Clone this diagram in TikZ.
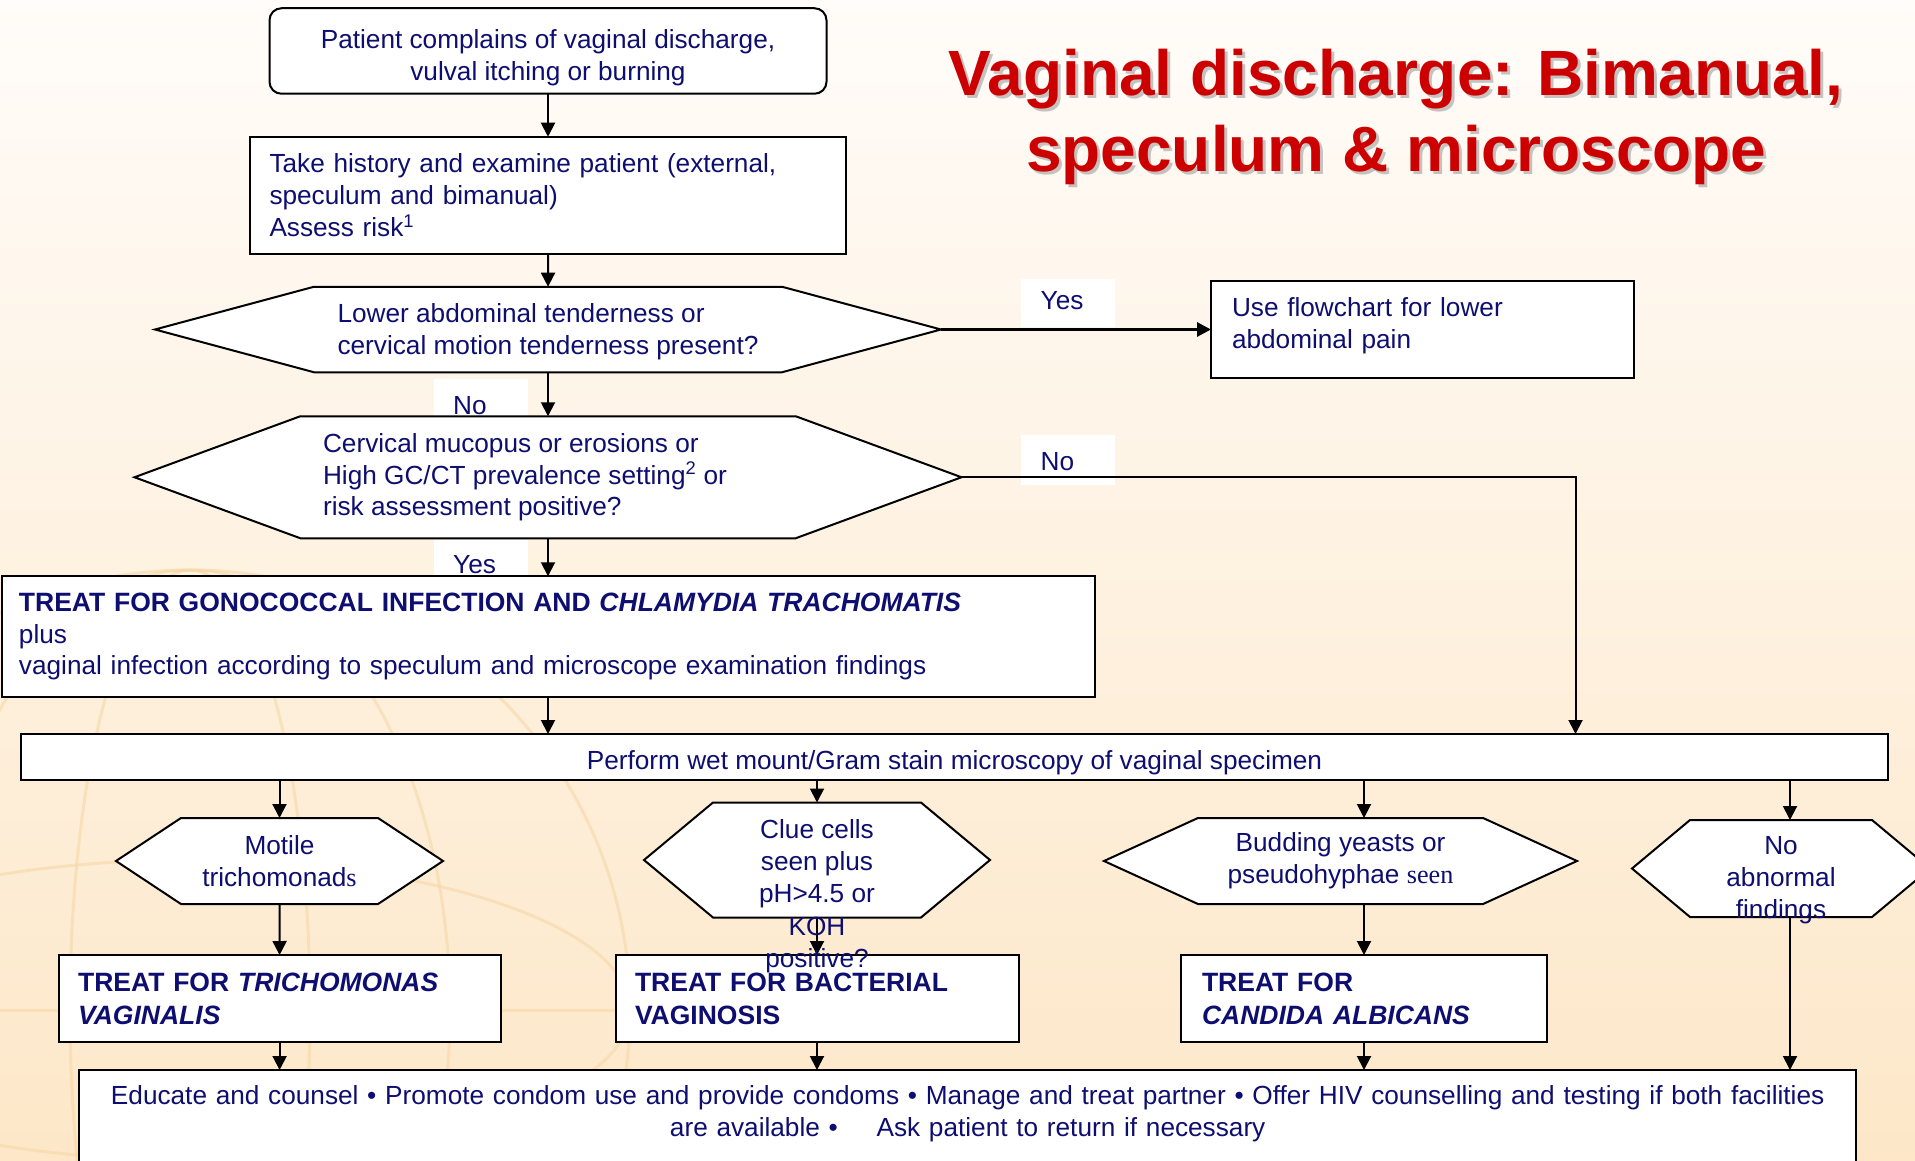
\documentclass[tikz,border=0pt]{standalone}
\usepackage{fontspec}
\setmainfont{Liberation Sans}
\newfontfamily\serifpart{Liberation Serif}
\usetikzlibrary{positioning,arrows.meta,shapes.symbols}

\definecolor{txtblue}{RGB}{14,14,112}
\definecolor{titlered}{RGB}{204,0,0}
\definecolor{bgtop}{RGB}{255,252,249}
\definecolor{bgbot}{RGB}{253,231,200}
\definecolor{globe}{RGB}{246,214,164}

% lower the printed text inside a box without changing its size
\newcommand\lowerc[2]{\raisebox{#1}[\height][\depth]{\begin{tabular}{@{}c@{}}#2\end{tabular}}}
\newcommand\lowerl[2]{\raisebox{#1}[\height][\depth]{\begin{tabular}{@{}l@{}}#2\end{tabular}}}

\begin{document}
\begin{tikzpicture}[x=1pt, y=-1pt,
  font=\fontsize{26.2}{31.8}\selectfont,
  box/.style={draw, line width=2pt, fill=white, text=txtblue, inner sep=0pt, outer sep=0pt, align=left},
  hexa/.style={box, shape=signal, signal to=west and east, align=center},
  treat/.style={box, font=\fontsize{26.5}{33}\selectfont\bfseries},
  lbl/.style={fill=white, text=txtblue, inner xsep=19.5pt, inner ysep=0pt, text width=55pt, align=left, anchor=north west},
  arr/.style={-{Triangle[length=14pt,width=14pt]}, line width=2pt}
]

% background and globe
\useasboundingbox (0,0) rectangle (1915,1161);
\fill[top color=bgtop, bottom color=bgbot] (0,0) rectangle (1915,1161);
\begin{scope}[draw=globe, line width=3pt, opacity=.55]
  \draw (190,1010) circle[radius=440];
  \draw (190,1010) ellipse[x radius=120, y radius=440];
  \draw (190,1010) ellipse[x radius=260, y radius=440];
  \draw (-250,1010) -- (630,1010);
  \draw (190,1010) ellipse[x radius=440, y radius=150];
\end{scope}

% title
\node[font=\fontsize{64}{76}\selectfont\bfseries, text=black!45, opacity=.5, align=center] (title-shadow) at (1399,120) {Vaginal discharge: Bimanual,\\speculum \& microscope};
\node[font=\fontsize{64}{76}\selectfont\bfseries, text=titlered, align=center] (title) at (1396,117) {Vaginal discharge: Bimanual,\\speculum \& microscope};

% yes / no tags
\node[lbl, text height=30.5pt, text depth=18pt] (yes-abdo) at (1021,278.5) {Yes};
\node[lbl, text height=35pt, text depth=15pt] (no-cerv) at (1021,435) {No};
\node[lbl, text height=35.5pt, text depth=2pt] (no-abdo) at (433.5,379) {No};
\node[lbl, text height=33pt, text depth=3pt] (yes-cerv) at (433.5,540) {Yes};

% top column
\node[box, rounded corners=12pt, minimum width=557pt, minimum height=85.5pt, align=center] (complain) at (548,51) {\lowerc{-7pt}{Patient complains of vaginal discharge,\\vulval itching or burning}};
\node[box, text width=557pt, inner xsep=19.5pt, minimum height=117pt, below=43pt of complain] (history) {Take history and examine patient (external,\\speculum and bimanual)\\Assess risk\textsuperscript{1}};
\node[hexa, align=left, minimum width=786pt, minimum height=85.5pt, signal pointer angle=30.1, below=33pt of history] (abdom) {\lowerl{-2.5pt}{Lower abdominal tenderness or\\cervical motion tenderness present?}};
\node[box, text width=381pt, inner xsep=21pt, minimum height=97.6pt, right=270pt of abdom] (lap) {\lowerl{3.5pt}{Use flowchart for lower\\abdominal pain}};
\node[hexa, align=left, minimum width=827pt, minimum height=122pt, signal pointer angle=40.4, below=44pt of abdom] (cervix) {Cervical mucopus or erosions or\\High GC/CT prevalence setting\textsuperscript{2} or\rule{46pt}{0pt}\\risk assessment positive?};
\node[box, text width=1058pt, inner xsep=17.5pt, minimum height=120.5pt, below=38pt of cervix] (gono) {{\fontsize{26.5}{31.8}\selectfont\bfseries TREAT FOR GONOCOCCAL INFECTION AND \textit{CHLAMYDIA TRACHOMATIS}}\\plus\\vaginal infection according to speculum and microscope examination findings};
\coordinate (nodrop) at (1575.5,0);

% microscopy row
\node[box, minimum width=1867pt, minimum height=46pt, align=center] (wetmount) at (954.5,757) {\raisebox{-6pt}[\height][\depth]{Perform wet mount/Gram stain microscopy of vaginal specimen}};

\node[hexa, minimum width=327pt, minimum height=86pt, signal pointer angle=67] (motile) at (279.5,861) {Motile\\trichomonad{\serifpart s}};
\node[hexa, minimum width=346pt, minimum height=115pt, signal pointer angle=79.6] (clue) at (817,860) {};
\node[hexa, minimum width=473pt, minimum height=86pt, signal pointer angle=49.2] (yeast) at (1340.5,861) {Budding yeasts or\\pseudohyphae {\serifpart seen}};
\node[hexa, minimum width=298pt, minimum height=97pt, signal pointer angle=79.8] (normal) at (1781,868.5) {};
\coordinate (normal-x) at (1790,0);

\node[treat, text width=403pt, inner xsep=19.5pt, minimum height=87pt] (trich) at (279.6,998.5) {TREAT FOR \textit{TRICHOMONAS}\\\textit{VAGINALIS}};
\node[treat, text width=364pt, inner xsep=19.5pt, minimum height=87pt] (bv) at (817,998.5) {TREAT FOR BACTERIAL\\VAGINOSIS};
\node[treat, text width=324pt, inner xsep=21pt, minimum height=87pt] (candida) at (1364,998.5) {TREAT FOR\\\textit{CANDIDA ALBICANS}};

\node[box, text width=1738pt, inner xsep=19.5pt, inner ysep=15.5pt, align=center, anchor=north, text depth=80pt] (educate) at (967.7,1070) {Educate and counsel \textbullet{} Promote condom use and provide condoms \textbullet{} Manage and treat partner \textbullet{} Offer HIV counselling and testing if both facilities\\are available \textbullet\hspace{30pt} Ask patient to return if necessary};

% connectors
\draw[arr] (complain) -- (history);
\draw[arr] (history) -- (abdom);
\draw[arr, line width=3pt] (abdom.east) -- (lap.west);
\draw[arr] (abdom.south) -- (cervix.north);
\draw[arr] (cervix.east) -| (nodrop |- wetmount.north);
\draw[arr] (cervix.south) -- (gono.north);
\draw[arr] (gono.south) -- (gono.south |- wetmount.north);
\draw[arr] (wetmount.south -| motile) -- (motile.north);
\draw[arr] (wetmount.south -| clue) -- (clue.north);
\draw[arr] (wetmount.south -| candida) -- (yeast.north -| candida);
\draw[arr] (wetmount.south -| normal-x) -- (normal.north -| normal-x);
\draw[arr] (motile.south) -- (trich.north);
\draw[arr] (clue.south) -- (bv.north);
\draw[arr] (yeast.south -| candida) -- (candida.north);
\draw[arr] (trich.south) -- (trich.south |- educate.north);
\draw[arr] (bv.south) -- (bv.south |- educate.north);
\draw[arr] (candida.south) -- (candida.south |- educate.north);
\draw[arr] (normal.south -| normal-x) -- (normal-x |- educate.north);

% texts that spill out of their hexagons
\node[text=txtblue, align=center, inner sep=0pt, font=\fontsize{26.2}{32.3}\selectfont] (clue-txt) at (817,896) {Clue cells\\seen plus\\pH>4.5 or\\KOH\\positive?};
\node[text=txtblue, align=center, inner sep=0pt] (normal-txt) at (1781,880) {No\\abnormal\\findings};

\end{tikzpicture}
\end{document}
